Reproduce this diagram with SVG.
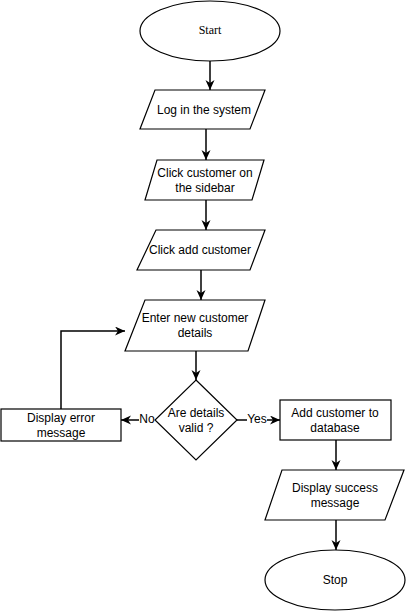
<svg xmlns="http://www.w3.org/2000/svg" width="406" height="611" viewBox="0 0 406 611">
<style>
.s{fill:#fff;stroke:#000;stroke-width:1.2}
.t{font-family:"Liberation Sans",Arial,sans-serif;font-size:12px;fill:#000;text-anchor:middle;dominant-baseline:central}
.ts{font-family:"Liberation Serif","Times New Roman",serif;font-size:12px;fill:#000;text-anchor:middle;dominant-baseline:central}
.c{fill:none;stroke:#000;stroke-width:1.5;marker-end:url(#a)}
</style>
<defs>
<marker id="a" markerUnits="userSpaceOnUse" markerWidth="12" markerHeight="10" refX="10" refY="4.5" orient="auto">
<path d="M0,0 L10,4.5 L0,9 L3,4.5 Z" fill="#000"/>
</marker>
</defs>
<rect width="406" height="611" fill="#fff"/>
<g id="connectors">
<path class="c" d="M210,61 L210,90"/>
<path class="c" d="M206,129 L206,160"/>
<path class="c" d="M206,200 L206,230"/>
<path class="c" d="M201,270 L201,300"/>
<path class="c" d="M196,351 L196,380"/>
<path class="c" d="M155,420 L121,420"/>
<path class="c" d="M237,420 L280,420"/>
<path class="c" d="M61,409 L61,331 L125,331"/>
<path class="c" d="M336,440 L336,470"/>
<path class="c" d="M336,520 L336,550"/>
<rect x="139" y="412" width="16" height="15" fill="#fff"/>
<text class="t" x="147" y="419">No</text>
<rect x="247" y="412" width="20" height="15" fill="#fff"/>
<text class="t" x="257" y="419">Yes</text>
</g>
<g id="start">
<ellipse class="s" cx="210" cy="31" rx="70" ry="30"/>
<text class="ts" x="210" y="30">Start</text>
</g>
<g id="login">
<polygon class="s" points="155,90 265,90 250,129 140,129"/>
<text class="t" x="204" y="110">Log in the system</text>
</g>
<g id="clickcustomer">
<polygon class="s" points="157,160 264,160 252,200 145,200"/>
<text class="t" x="205" y="173">Click customer on</text>
<text class="t" x="205" y="188">the sidebar</text>
</g>
<g id="clickadd">
<polygon class="s" points="156,230 265,230 250,270 137,270"/>
<text class="t" x="200" y="250">Click add customer</text>
</g>
<g id="enter">
<polygon class="s" points="145,300 265,300 248,351 125,351"/>
<text class="t" x="195" y="318">Enter new customer</text>
<text class="t" x="195" y="333">details</text>
</g>
<g id="decision">
<polygon class="s" points="196,380 237,420 196,460 155,420"/>
<text class="t" x="196" y="413">Are details</text>
<text class="t" x="196" y="428">valid ?</text>
</g>
<g id="error">
<rect class="s" x="1" y="409" width="120" height="32"/>
<text class="t" x="61" y="418">Display error</text>
<text class="t" x="61" y="433">message</text>
</g>
<g id="add">
<rect class="s" x="280" y="400" width="111" height="40"/>
<text class="t" x="335" y="413">Add customer to</text>
<text class="t" x="335" y="428">database</text>
</g>
<g id="success">
<polygon class="s" points="282,470 404,470 385,520 265,520"/>
<text class="t" x="335" y="488">Display success</text>
<text class="t" x="335" y="503">message</text>
</g>
<g id="stop">
<ellipse class="s" cx="335" cy="580" rx="70" ry="30"/>
<text class="t" x="335" y="580">Stop</text>
</g>
</svg>
